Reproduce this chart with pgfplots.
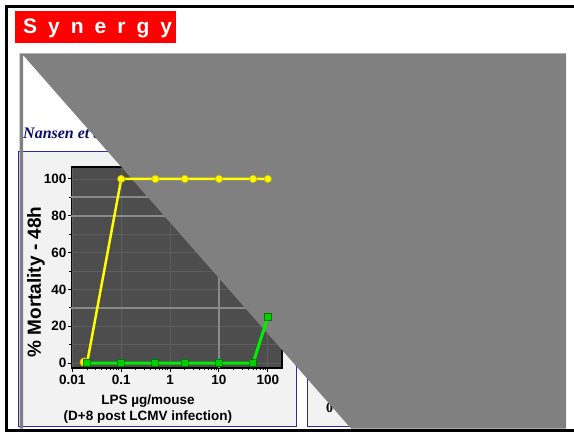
\documentclass[border=0pt]{standalone}
\usepackage{pgfplots}
\pgfplotsset{compat=1.18}
\usepackage{fontspec}
\setmainfont{Liberation Sans}
\newfontfamily\timesfont{Liberation Serif}
\definecolor{plotbg}{HTML}{4D4D4D}
\definecolor{gridc}{HTML}{5E5E5E}
\definecolor{hgrid}{HTML}{8A8A8A}
\definecolor{panelbg}{HTML}{F2F2F2}
\definecolor{panelbd}{HTML}{2B2BA8}
\definecolor{navy}{HTML}{0D0D6B}
\definecolor{curtain}{HTML}{808080}
\definecolor{ylw}{HTML}{FFFF00}
\definecolor{ylwd}{HTML}{D9C200}
\definecolor{grn}{HTML}{00EE00}
\definecolor{grnf}{HTML}{00D000}
\definecolor{grnd}{HTML}{007A00}
\begin{document}
\begin{tikzpicture}
\path[use as bounding box] (0,0) rectangle (574pt,-434pt);
\begin{scope}[x=1pt,y=-1pt]
  \fill[white] (0,0) rectangle (574,434);
  \fill[red] (15,11) rectangle (176,43);
  \node[anchor=base west, text=white, inner sep=0,
        font=\bfseries\fontsize{21}{21}\selectfont] at (23,33)
        {S\hspace{11pt}y\hspace{11pt}n\hspace{11pt}e\hspace{11pt}r\hspace{11pt}g\hspace{11pt}y};
  \node[anchor=base west, text=navy, inner sep=0,
        font=\timesfont\bfseries\itshape\fontsize{16}{16}\selectfont] at (23,138) {Nansen et al.};
  \filldraw[fill=panelbg, draw=panelbd, line width=1pt] (18.5,151) rectangle (296,426);
  \filldraw[fill=panelbg, draw=panelbd, line width=1pt] (307,151) rectangle (562,426);
  \node[anchor=base west, inner sep=0,
        font=\timesfont\bfseries\fontsize{14}{14}\selectfont] at (326,412) {0};
\end{scope}
\begin{axis}[at={(71.5pt,-368pt)}, anchor=south west,
  width=210.5pt, height=201pt, scale only axis,
  xmode=log, xmin=0.0096, xmax=195, ymin=-2.7, ymax=106.5,
  axis background/.style={fill=plotbg},
  axis line style={black, line width=1.5pt},
  xtick={0.01,0.1,1,10,100}, xticklabels={0.01,0.1,1,10,100},
  minor xtick={0.02,0.03,0.04,0.05,0.06,0.07,0.08,0.09,0.2,0.3,0.4,0.5,0.6,0.7,0.8,0.9,2,3,4,5,6,7,8,9,20,30,40,50,60,70,80,90},
  ytick={0,20,40,60,80,100}, yticklabels={0,20,40,60,80,100},
  minor ytick={10,30,50,70,90},
  xtick pos=left, ytick pos=left,
  tick align=outside,
  major tick length=4pt, minor tick length=2pt,
  every tick/.style={black, line width=1pt},
  xmajorgrids, ymajorgrids, yminorgrids,
  major grid style={gridc, line width=0.8pt},
  minor grid style={gridc, line width=0.8pt},
  extra y ticks={30,80,90}, extra y tick labels={},
  extra y tick style={grid=major, major grid style={hgrid, line width=1.8pt}, major tick length=0pt},
  extra x ticks={10}, extra x tick labels={},
  extra x tick style={grid=major, major grid style={hgrid, line width=1.8pt}, major tick length=0pt},
  ticklabel style={font=\bfseries\fontsize{13.5}{13.5}\selectfont},
  yticklabel style={inner sep=1pt},
  xlabel={LPS µg/mouse\\(D+8 post LCMV infection)},
  xlabel style={at={(axis description cs:0.363,-0.204)}, anchor=center, align=center,
    font=\bfseries\fontsize{13.5}{16}\selectfont},
  ylabel={\% Mortality - 48h},
  ylabel style={at={(axis description cs:-0.169,0.428)}, anchor=center,
    font=\bfseries\fontsize{19}{19}\selectfont},
]
\end{axis}
\begin{scope}[x=1pt,y=-1pt]
  \fill[curtain] (19.5,53) -- (566,53) -- (566,428.5) -- (351,428.5) -- (23,55)
     -- (23,428.5) -- (19.5,428.5) -- cycle;
  \draw[color=black!30, line width=0.8pt] (19.5,53) -- (566,53);
\end{scope}
\begin{axis}[at={(71.5pt,-368pt)}, anchor=south west,
  width=210.5pt, height=201pt, scale only axis,
  xmode=log, xmin=0.0096, xmax=195, ymin=-2.7, ymax=106.5,
  hide axis, clip=false]
\addplot[ylw, line width=2.5pt, mark=*, mark size=3.6pt,
  mark options={fill=ylw, draw=ylwd, line width=0.8pt}]
  coordinates {(0.02,0) (0.1,100) (0.5,100) (2,100) (10,100) (50,100) (100,100)};
\addplot[only marks, mark=*, mark size=4.2pt,
  mark options={fill=ylw, draw=orange!70!yellow, line width=0.8pt}]
  coordinates {(0.0175,0.5)};
\addplot[grn, line width=3pt, mark=square*, mark size=3.6pt,
  mark options={fill=grnf, draw=grnd, line width=1pt}]
  coordinates {(0.02,0) (0.1,0) (0.5,0) (2,0) (10,0) (50,0) (100,25)};
\end{axis}
\begin{scope}[x=1pt,y=-1pt]
  \fill[black] (5,5) rectangle (574,7.5);
  \fill[black] (5,5) rectangle (7.5,431.5);
  \fill[black] (5,429) rectangle (574,431.5);
\end{scope}
\end{tikzpicture}
\end{document}
